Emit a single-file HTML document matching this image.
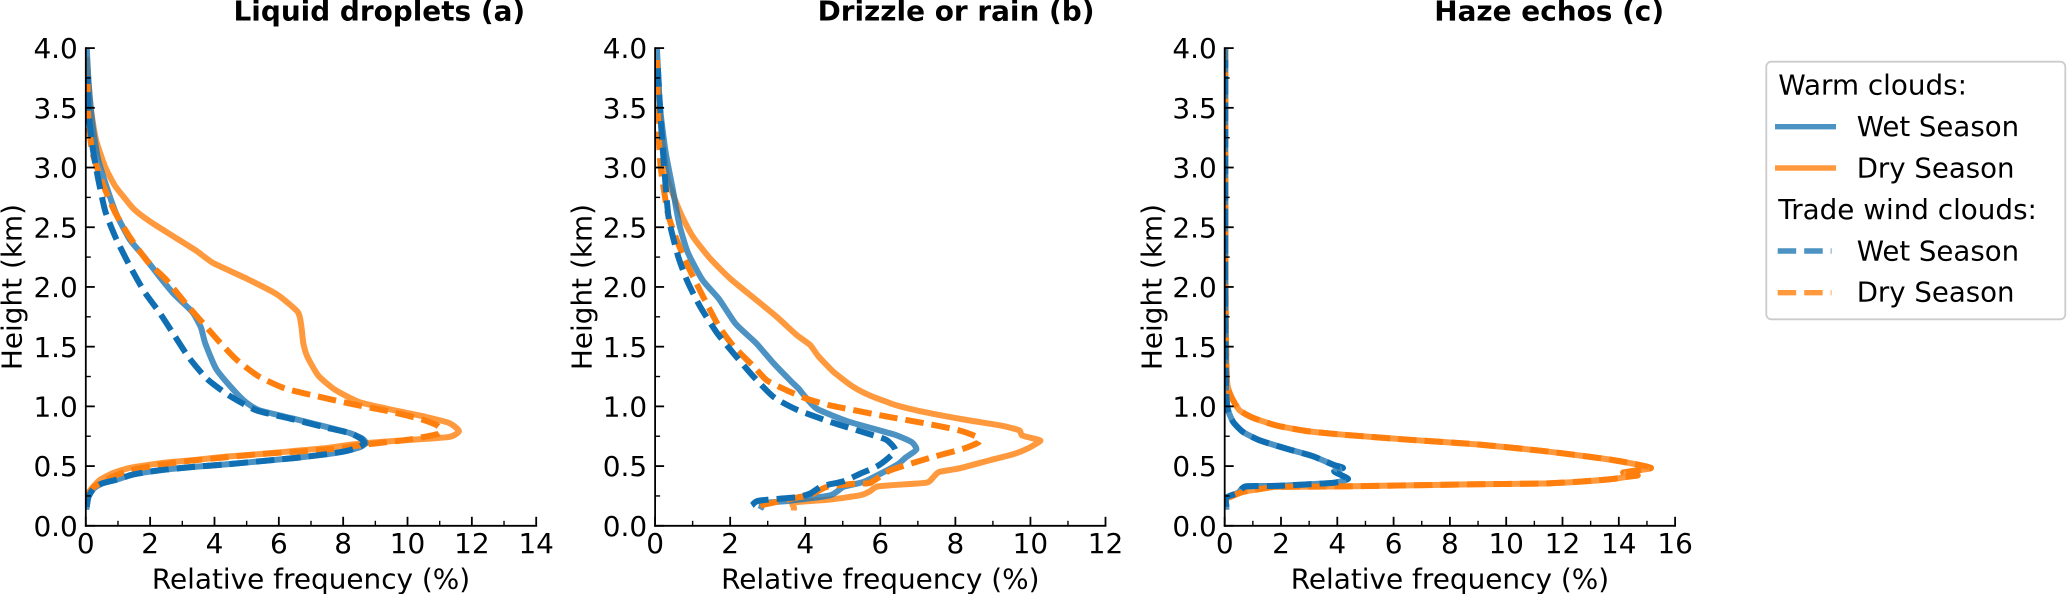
<!DOCTYPE html>
<html lang="en">
<head>
<meta charset="utf-8">
<title>Relative frequency profiles</title>
<style>
html,body{margin:0;padding:0;background:#fff;width:2067px;height:594px;overflow:hidden}
svg{display:block}
text{font-family:"DejaVu Sans","Liberation Sans",sans-serif;fill:#000}
</style>
</head>
<body>
<svg id="chart" xmlns="http://www.w3.org/2000/svg" width="2067" height="594" viewBox="0 0 2067 594">
  <rect width="2067" height="594" fill="#fff"/>
  <g id="panels"></g>
  <g>
    <rect x="1766.3" y="61.7" width="299" height="257.6" rx="5" fill="#fff" stroke="#cccccc" stroke-width="1.8"/>
    <text x="1778.3" y="94.3" font-size="27.8">Warm clouds:</text>
    <line x1="1775" x2="1836" y1="126.7" y2="126.7" stroke="#1f77b4" stroke-opacity="0.8" stroke-width="5.4"/>
    <text x="1856.7" y="136" font-size="27.6">Wet Season</text>
    <line x1="1775" x2="1836" y1="168" y2="168" stroke="#ff7f0e" stroke-opacity="0.8" stroke-width="5.4"/>
    <text x="1856.7" y="177.3" font-size="27.6">Dry Season</text>
    <text x="1778.3" y="219" font-size="27.8">Trade wind clouds:</text>
    <line x1="1777.7" x2="1831.5" y1="251" y2="251" stroke="#1f77b4" stroke-opacity="0.8" stroke-width="5.4" stroke-dasharray="18.5 8"/>
    <text x="1856.7" y="260.3" font-size="27.6">Wet Season</text>
    <line x1="1777.7" x2="1831.5" y1="292.7" y2="292.7" stroke="#ff7f0e" stroke-opacity="0.8" stroke-width="5.4" stroke-dasharray="18.5 8"/>
    <text x="1856.7" y="301.7" font-size="27.6">Dry Season</text>
  </g>
</svg>
<script>
// Axis tick labels
const heightTicks = [0, 0.5, 1, 1.5, 2, 2.5, 3, 3.5, 4];
const heightTickLabels = ['0.0', '0.5', '1.0', '1.5', '2.0', '2.5', '3.0', '3.5', '4.0'];
const heightMinorTicks = [0.25, 0.75, 1.25, 1.75, 2.25, 2.75, 3.25, 3.75];
const liquidFreqTicks = [0, 2, 4, 6, 8, 10, 12, 14];
const liquidFreqMinor = [1, 3, 5, 7, 9, 11, 13];
const drizzleFreqTicks = [0, 2, 4, 6, 8, 10, 12];
const drizzleFreqMinor = [1, 3, 5, 7, 9, 11];
const hazeFreqTicks = [0, 2, 4, 6, 8, 10, 12, 14, 16];
const hazeFreqMinor = [1, 3, 5, 7, 9, 11, 13, 15];

// Panel (a) Liquid droplets
const liquidWarmWetHeight = [.16,.24,.31,.354,.387,.43,.465,.493,.515,.54,.568,.6,.627,.66,.693,.73,.777,.827,.897,.967,1.03,1.12,1.31,1.53,1.66,1.79,1.94,2.09,2.25,2.4,2.61,2.82,3.07,3.36,3.7,4.0];
const liquidWarmWetFreq = [.03,.08,.24,.5,.96,1.48,2.3,3.35,4.4,5.4,6.5,7.5,8.1,8.54,8.7,8.6,8.2,7.5,6.46,5.4,5.0,4.65,4.06,3.71,3.58,3.31,2.74,2.28,1.82,1.36,.95,.67,.38,.21,.09,.03];
const liquidWarmDryHeight = [.22,.256,.33,.387,.443,.479,.5,.53,.55,.58,.6,.627,.652,.682,.7,.72,.744,.794,.86,.91,.967,1.036,1.14,1.26,1.42,1.53,1.67,1.79,1.94,2.07,2.2,2.3,2.407,2.547,2.65,2.756,2.85,3.0,3.23,3.51,3.9];
const liquidWarmDryFreq = [0,.03,.24,.45,.86,1.28,1.7,2.5,3.35,4.4,5.4,6.5,7.5,8.3,9.05,10.1,11.3,11.6,11.3,10.6,9.6,8.5,7.74,7.22,6.88,6.76,6.7,6.59,5.93,5.0,3.96,3.45,2.82,2.0,1.5,1.17,.9,.61,.32,.15,.03];
const liquidTradeWetHeight = [.16,.24,.31,.354,.387,.43,.465,.493,.515,.54,.568,.6,.627,.66,.693,.73,.777,.827,.897,.967,1.09,1.23,1.41,1.6,1.79,1.96,2.18,2.4,2.63,2.91,3.17,3.45,3.77];
const liquidTradeWetFreq = [.03,.08,.24,.5,.96,1.48,2.3,3.35,4.4,5.4,6.5,7.5,8.1,8.5,8.65,8.55,8.2,7.4,6.36,5.3,4.46,3.77,3.2,2.74,2.28,1.82,1.36,.95,.61,.38,.21,.09,.05];
const liquidTradeDryHeight = [.25,.327,.39,.454,.495,.54,.57,.6,.62,.644,.685,.72,.77,.82,.85,.9,.96,1.02,1.09,1.15,1.25,1.39,1.55,1.71,1.87,2.06,2.21,2.42,2.63,2.85,3.13,3.45,3.83];
const liquidTradeDryFreq = [.03,.26,.67,1.24,1.93,3.08,4.23,5.38,6.53,7.68,8.83,10.0,10.96,11.0,10.85,10.33,9.4,8.26,7.1,6.19,5.38,4.69,4.12,3.6,3.08,2.5,1.93,1.36,.9,.55,.2,.07,.05];

// Panel (b) Drizzle or rain
const drizzleWarmWetHeight = [.16,.19,.21,.256,.326,.368,.465,.52,.57,.638,.7,.757,.805,.877,.98,1.08,1.15,1.217,1.37,1.53,1.69,1.9,2.06,2.29,2.53,2.82,3.13,3.51,3.99];
const drizzleWarmWetFreq = [2.84,2.89,3.6,4.67,5.02,5.56,6.18,6.49,6.67,6.96,6.84,6.44,5.91,5.11,4.31,4.0,3.82,3.6,3.13,2.69,2.15,1.7,1.26,.87,.64,.47,.28,.13,.05];
const drizzleWarmDryHeight = [.153,.195,.22,.256,.29,.331,.36,.395,.45,.48,.55,.6,.652,.707,.72,.757,.8,.84,.89,.953,1.008,1.09,1.165,1.29,1.42,1.514,1.598,1.75,1.89,2.07,2.24,2.42,2.59,2.78,2.91,3.13,3.45,3.86];
const drizzleWarmDryFreq = [3.7,3.7,4.67,5.47,5.73,5.96,7.2,7.38,7.56,8.09,8.93,9.55,9.96,10.25,10.22,9.78,9.7,9.2,8.22,7.16,6.44,5.73,5.27,4.75,4.35,4.13,3.77,3.24,2.7,2.0,1.46,1.01,.72,.47,.33,.23,.13,.06];
const drizzleTradeWetHeight = [.17,.21,.24,.27,.33,.373,.437,.507,.627,.716,.757,.87,.972,1.078,1.26,1.44,1.61,1.83,2.04,2.25,2.56,2.85,3.13,3.51,3.86];
const drizzleTradeWetFreq = [2.58,2.76,3.78,4.13,4.44,5.02,5.47,5.96,6.4,6.18,5.82,4.67,3.78,3.16,2.59,2.1,1.66,1.21,.87,.62,.37,.28,.21,.13,.07];
const drizzleTradeDryHeight = [.17,.237,.256,.326,.354,.36,.465,.57,.646,.70,.744,.8,.85,.925,1.008,1.064,1.134,1.217,1.33,1.5,1.67,1.93,2.21,2.44,2.63,3.0,3.36,3.9];
const drizzleTradeDryFreq = [2.8,3.78,4.13,4.58,5.38,5.73,6.27,7.33,8.22,8.62,8.58,8.09,7.33,6.0,4.67,4.04,3.51,2.98,2.64,2.1,1.7,1.26,.82,.52,.33,.15,.08,.05];

// Panel (c) Haze echos
const hazeWarmWetHeight = [.16,.237,.276,.33,.334,.348,.36,.373,.393,.423,.457,.485,.512,.582,.646,.716,.786,.87,.967,1.08,1.3,2.0,4.0];
const hazeWarmWetFreq = [.06,.06,.47,.75,1.84,3.02,3.85,4.15,4.38,4.15,3.89,4.2,3.85,3.14,2.19,1.24,.65,.3,.12,.06,.04,.02,.02];
const hazeWarmDryHeight = [.24,.284,.312,.326,.33,.348,.354,.368,.39,.41,.423,.447,.485,.554,.627,.682,.72,.763,.794,.84,.905,.967,1.05,1.13,1.217,1.5,2.0,3.0,4.0];
const hazeWarmDryFreq = [.18,.65,1.36,1.84,4.2,8.95,11.3,12.5,13.7,14.3,14.67,14.16,15.14,13.7,11.3,8.95,6.58,4.2,2.9,1.84,1.0,.53,.3,.15,.08,.05,.03,.02,.02];
const hazeTradeWetHeight = [.16,.237,.276,.33,.334,.348,.36,.373,.393,.423,.457,.485,.512,.582,.646,.716,.786,.87,.967,1.08,1.3,2.0,3.9];
const hazeTradeWetFreq = [.06,.06,.47,.75,1.84,3.02,3.85,4.15,4.38,4.15,3.89,4.2,3.85,3.14,2.19,1.24,.65,.3,.12,.06,.04,.02,.02];
const hazeTradeDryHeight = [.24,.284,.312,.326,.33,.348,.354,.368,.39,.41,.423,.447,.485,.554,.627,.682,.72,.763,.794,.84,.905,.967,1.05,1.13,1.217,1.5,2.0,3.0,3.9];
const hazeTradeDryFreq = [.18,.65,1.36,1.84,4.2,8.95,11.3,12.5,13.7,14.3,14.67,14.16,15.14,13.7,11.3,8.95,6.58,4.2,2.9,1.84,1.0,.53,.3,.15,.08,.05,.03,.02,.02];

const SVGNS = 'http://www.w3.org/2000/svg';
const Y_TOP = 48.1, Y_BOTTOM = 525.8, PANEL_WIDTH = 450.4, HEIGHT_MAX = 4, FONT = 27.9;
const panelsLayer = document.getElementById('panels');

function mk(parent, tag, attrs) {
  const el = document.createElementNS(SVGNS, tag);
  for (const k in attrs) el.setAttribute(k, attrs[k]);
  parent.appendChild(el);
  return el;
}

// Smooth path through the read points so that polyline kinks do not show.
function smoothPath(p, k) {
  let d = 'M' + p[0][0].toFixed(2) + ' ' + p[0][1].toFixed(2);
  for (let i = 0; i < p.length - 1; i++) {
    const a = p[Math.max(i - 1, 0)], b = p[i], c = p[i + 1], e = p[Math.min(i + 2, p.length - 1)];
    const c1x = b[0] + (c[0] - a[0]) * k, c1y = b[1] + (c[1] - a[1]) * k;
    const c2x = c[0] - (e[0] - b[0]) * k, c2y = c[1] - (e[1] - b[1]) * k;
    d += 'C' + c1x.toFixed(2) + ' ' + c1y.toFixed(2) + ' ' + c2x.toFixed(2) + ' ' + c2y.toFixed(2) + ' ' + c[0].toFixed(2) + ' ' + c[1].toFixed(2);
  }
  return d;
}

function drawPanel(key, title, x0, ylabelX, freqMax, freqTicks, freqMinor, series) {
  const xScale = v => x0 + v * PANEL_WIDTH / freqMax;
  const yScale = h => Y_BOTTOM - h * (Y_BOTTOM - Y_TOP) / HEIGHT_MAX;
  const xEnd = xScale(freqMax);

  const g = mk(panelsLayer, 'g', {});
  
  

  const clip = mk(g, 'clipPath', {id: 'clip-' + key});
  mk(clip, 'rect', {x: x0, y: Y_TOP, width: PANEL_WIDTH, height: Y_BOTTOM - Y_TOP});

  series.forEach(s => {
    const pts = s.freq.map((v, i) => [xScale(v), yScale(s.height[i])]);
    const line = mk(g, 'path', {
      d: smoothPath(pts, 0.1), fill: 'none', stroke: s.color, 'stroke-opacity': s.opacity,
      'stroke-width': 6, 'stroke-linejoin': 'round', 'stroke-linecap': s.dash ? 'butt' : 'square',
      'clip-path': 'url(#clip-' + key + ')'
    });
    if (s.dash) line.setAttribute('stroke-dasharray', '18.5 8');
    
    
  });

  const spineL = mk(g, 'line', {x1: x0, x2: x0, y1: Y_TOP - 0.9, y2: Y_BOTTOM + 0.9, stroke: '#000', 'stroke-width': 1.8});
  
  
  const spineB = mk(g, 'line', {x1: x0 - 0.9, x2: xEnd + 0.9, y1: Y_BOTTOM, y2: Y_BOTTOM, stroke: '#000', 'stroke-width': 1.8});
  
  

  freqTicks.forEach(v => {
    const tick = mk(g, 'line', {x1: xScale(v), x2: xScale(v), y1: Y_BOTTOM, y2: Y_BOTTOM - 9, stroke: '#000', 'stroke-width': 1.8});
    
    
    const label = mk(g, 'text', {x: xScale(v), y: 553, 'font-size': FONT, 'text-anchor': 'middle'});
    label.textContent = String(v);
    
    
  });
  freqMinor.forEach(v => {
    const tick = mk(g, 'line', {x1: xScale(v), x2: xScale(v), y1: Y_BOTTOM, y2: Y_BOTTOM - 5, stroke: '#000', 'stroke-width': 1.4});
    
    
  });
  heightTicks.forEach((h, i) => {
    const tick = mk(g, 'line', {x1: x0, x2: x0 + 9, y1: yScale(h), y2: yScale(h), stroke: '#000', 'stroke-width': 1.8});
    
    
    const label = mk(g, 'text', {x: x0 - 8, y: yScale(h) + 10.1, 'font-size': FONT, 'text-anchor': 'end'});
    label.textContent = heightTickLabels[i];
    
    
  });
  heightMinorTicks.forEach(h => {
    const tick = mk(g, 'line', {x1: x0, x2: x0 + 5, y1: yScale(h), y2: yScale(h), stroke: '#000', 'stroke-width': 1.4});
    
    
  });

  const titleEl = mk(g, 'text', {x: xEnd - 11, y: 20.6, 'font-size': FONT, 'font-weight': 'bold', 'text-anchor': 'end'});
  titleEl.textContent = title;
  
  

  const xTitle = mk(g, 'text', {x: x0 + PANEL_WIDTH / 2, y: 588.5, 'font-size': FONT, 'text-anchor': 'middle'});
  xTitle.textContent = 'Relative frequency (%)';
  
  

  const yTitle = mk(g, 'text', {x: 0, y: 0, 'font-size': FONT, 'text-anchor': 'middle', transform: 'translate(' + ylabelX + ',287) rotate(-90)'});
  yTitle.textContent = 'Height (km)';
  
  
}

const BLUE_SOLID = {name: 'warm-wet', color: '#1f77b4', opacity: 0.8, dash: false};
const ORANGE_SOLID = {name: 'warm-dry', color: '#ff7f0e', opacity: 0.8, dash: false};
const BLUE_DASH = {name: 'trade-wet', color: '#0f6fb2', opacity: 1, dash: true};
const ORANGE_DASH = {name: 'trade-dry', color: '#ff7f0e', opacity: 1, dash: true};

drawPanel('liquid-droplets', 'Liquid droplets (a)', 85.8, 21.5, 14, liquidFreqTicks, liquidFreqMinor, [
  Object.assign({height: liquidWarmDryHeight, freq: liquidWarmDryFreq}, ORANGE_SOLID),
  Object.assign({height: liquidWarmWetHeight, freq: liquidWarmWetFreq}, BLUE_SOLID),
  Object.assign({height: liquidTradeDryHeight, freq: liquidTradeDryFreq}, ORANGE_DASH),
  Object.assign({height: liquidTradeWetHeight, freq: liquidTradeWetFreq}, BLUE_DASH)
]);
drawPanel('drizzle-rain', 'Drizzle or rain (b)', 655.1, 591.4, 12, drizzleFreqTicks, drizzleFreqMinor, [
  Object.assign({height: drizzleWarmDryHeight, freq: drizzleWarmDryFreq}, ORANGE_SOLID),
  Object.assign({height: drizzleWarmWetHeight, freq: drizzleWarmWetFreq}, BLUE_SOLID),
  Object.assign({height: drizzleTradeDryHeight, freq: drizzleTradeDryFreq}, ORANGE_DASH),
  Object.assign({height: drizzleTradeWetHeight, freq: drizzleTradeWetFreq}, BLUE_DASH)
]);
drawPanel('haze-echos', 'Haze echos (c)', 1224.7, 1161.4, 16, hazeFreqTicks, hazeFreqMinor, [
  Object.assign({height: hazeWarmDryHeight, freq: hazeWarmDryFreq}, ORANGE_SOLID),
  Object.assign({height: hazeWarmWetHeight, freq: hazeWarmWetFreq}, BLUE_SOLID),
  Object.assign({height: hazeTradeDryHeight, freq: hazeTradeDryFreq}, ORANGE_DASH),
  Object.assign({height: hazeTradeWetHeight, freq: hazeTradeWetFreq}, BLUE_DASH)
]);
</script>
</body>
</html>
